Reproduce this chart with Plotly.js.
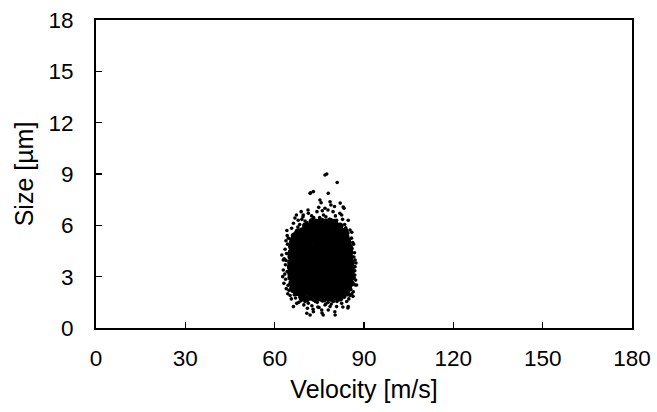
<!DOCTYPE html>
<html>
<head>
<meta charset="utf-8">
<script src="https://cdn.plot.ly/plotly-3.0.1.min.js"></script>
<style>html,body{margin:0;padding:0;background:#fff;}#chart{width:657px;height:412px;}</style>
</head>
<body>
<div id="chart"></div>
<script>
// Dense core of the droplet cloud: velocity [m/s] and size [µm]
const coreX = [
 69.2,70.6,72.1,73.4,74.9,76.3,77.8,79.1,80.6,81.9,
 67.3,68.8,70.1,71.7,73.0,74.6,75.9,77.4,78.8,80.3,81.7,83.2,84.1,
 66.1,67.6,69.0,70.5,71.9,73.3,74.8,76.2,77.6,79.1,80.5,81.9,83.4,84.8,
 65.8,66.8,68.3,69.7,71.2,72.6,74.1,75.5,77.0,78.4,79.8,81.3,82.7,84.2,85.5,
 65.5,66.4,67.9,69.3,70.8,72.2,73.7,75.1,76.6,78.0,79.5,80.9,82.4,83.8,85.2,85.7,
 65.4,66.3,67.7,69.2,70.6,72.1,73.5,75.0,76.4,77.9,79.3,80.8,82.2,83.7,85.1,85.7,
 65.3,66.2,67.7,69.1,70.5,72.0,73.4,74.9,76.3,77.8,79.2,80.7,82.1,83.6,85.0,85.8,
 65.4,66.3,67.8,69.2,70.7,72.1,73.6,75.0,76.5,77.9,79.4,80.8,82.3,83.7,85.2,85.7,
 65.5,66.4,67.9,69.3,70.8,72.2,73.7,75.1,76.6,78.0,79.5,80.9,82.4,83.8,85.3,
 65.6,66.5,68.0,69.4,70.9,72.3,73.8,75.2,76.7,78.1,79.6,81.0,82.5,83.9,85.2,
 65.7,66.7,68.2,69.6,71.1,72.5,74.0,75.4,76.9,78.3,79.8,81.2,82.7,84.1,85.1,
 66.0,67.2,68.6,70.1,71.5,73.0,74.4,75.9,77.3,78.8,80.2,81.7,83.1,84.5,
 66.6,68.0,69.5,70.9,72.4,73.8,75.3,76.7,78.2,79.6,81.1,82.5,83.9,
 67.9,69.3,70.8,72.2,73.7,75.1,76.6,78.0,79.5,80.9,82.3,83.6,
 70.4,71.8,73.3,74.7,76.2,77.6,79.1,80.5,81.9,
 72.6,74.1,75.7,77.2,78.6,80.1
];
const coreY = [
 1.78,1.71,1.80,1.73,1.77,1.70,1.79,1.74,1.81,1.76,
 2.08,2.01,2.06,2.10,2.02,2.07,2.00,2.09,2.04,2.11,2.03,2.08,2.05,
 2.33,2.39,2.31,2.37,2.30,2.36,2.40,2.32,2.38,2.34,2.31,2.39,2.35,2.33,
 2.62,2.68,2.63,2.69,2.61,2.66,2.70,2.64,2.67,2.60,2.68,2.63,2.69,2.65,2.62,
 2.97,2.91,2.99,2.93,2.96,2.90,2.98,2.94,2.99,2.92,2.97,2.95,2.91,2.98,2.93,2.96,
 3.22,3.28,3.21,3.27,3.24,3.29,3.20,3.26,3.23,3.28,3.21,3.25,3.29,3.22,3.27,3.24,
 3.57,3.51,3.58,3.53,3.59,3.52,3.56,3.50,3.57,3.54,3.59,3.51,3.55,3.58,3.52,3.56,
 3.83,3.88,3.82,3.87,3.84,3.89,3.81,3.86,3.83,3.88,3.82,3.85,3.89,3.81,3.87,3.84,
 4.18,4.12,4.17,4.11,4.19,4.13,4.16,4.10,4.18,4.14,4.19,4.12,4.17,4.11,4.15,
 4.42,4.48,4.41,4.47,4.44,4.49,4.43,4.46,4.40,4.48,4.42,4.47,4.41,4.45,4.44,
 4.77,4.71,4.78,4.73,4.76,4.70,4.79,4.72,4.77,4.74,4.71,4.78,4.73,4.76,4.72,
 5.02,5.08,5.03,5.07,5.01,5.09,5.04,5.06,5.02,5.08,5.03,5.07,5.05,5.01,
 5.37,5.31,5.38,5.33,5.36,5.30,5.39,5.32,5.37,5.34,5.38,5.31,5.35,
 5.62,5.68,5.63,5.67,5.61,5.69,5.64,5.66,5.62,5.68,5.63,5.65,
 5.97,5.92,5.98,5.93,5.96,5.91,5.99,5.94,5.95,
 6.22,6.17,6.24,6.19,6.23,6.18
];
// Sparse droplets around the edge of the cloud and outliers
const edgeX = [
 76.9,77.5,81.0,71.9,73.0,78.0,75.2,75.6,78.6,78.9,69.6,71.3,66.8,67.9,66.3,65.7,81.9,82.5,84.7,85.3,
 83.0,83.3,85.9,85.3,72.1,71.2,69.5,67.8,74.2,76.4,77.9,80.4,79.6,73.1,70.2,83.5,76.9,
 62.4,62.9,62.9,62.7,63.1,63.5,63.8,64.2,63.6,63.9,64.1,63.4,64.4,
 87.0,87.0,87.5,86.4,86.8,86.5,86.9,87.2,85.8,86.3,85.6,87.0,
 66.3,67.4,70.8,71.9,73.0,75.8,76.3,78.6,80.8,82.5,84.7,68.5,65.6,66.6,69.8,72.5,74.3,77.2,79.7,81.6,
 83.4,84.9,65.9,74.9,78.0,80.2,68.1,74.5,76.9,80.3,82.9,84.6,75.9,
 66.9,68.4,69.1,70.9,72.4,73.6,75.1,76.0,77.2,78.4,79.3,80.8,81.4,82.8,83.9,84.6,85.1,66.5,65.4,67.3,
 68.9,74.8,80.1,82.0,
 64.3,64.0,63.8,64.2,63.7,64.5,64.8,65.2,63.2,64.6,
 86.6,86.9,86.7,86.4,86.0,86.2,85.9,85.3,87.3,
 67.0,68.9,70.2,71.3,73.7,76.0,77.9,79.0,80.9,82.2,83.9,84.2,71.0,72.9
];
const edgeY = [
 8.94,9.00,8.50,7.87,7.97,7.87,7.48,7.32,7.38,7.19,6.60,6.70,6.43,6.30,6.12,5.83,6.70,6.60,6.30,5.73,
 7.07,7.00,5.60,4.85,7.90,6.90,6.50,5.90,6.80,6.60,6.90,6.55,6.80,6.45,6.25,6.05,7.00,
 4.27,3.97,3.39,3.00,2.61,4.60,5.10,5.40,3.70,2.30,5.70,3.15,2.00,
 3.97,3.58,2.51,2.12,4.40,4.90,3.10,2.80,5.25,1.85,2.25,2.51,
 1.25,1.44,0.86,0.76,0.95,1.05,0.76,1.25,1.25,1.44,1.25,1.83,1.70,1.95,1.35,1.30,1.50,1.40,1.55,1.65,
 1.80,1.70,2.15,1.20,1.05,0.95,1.50,1.23,1.34,0.76,1.23,1.17,0.88,
 5.55,6.05,6.35,6.15,6.55,6.30,6.45,6.85,6.50,6.35,6.15,6.30,5.95,6.35,5.85,5.55,5.20,5.40,5.20,6.60,
 6.80,7.05,7.10,7.30,
 4.90,4.35,3.95,3.30,2.85,2.50,2.20,1.90,4.05,5.25,
 4.15,3.35,2.95,2.60,4.65,5.00,2.00,1.90,3.80,
 1.75,1.60,1.55,1.45,1.55,1.60,1.50,1.40,1.55,1.75,1.95,1.55,1.15,1.10
];
const xTicks = [0,30,60,90,120,150,180];
const yTicks = [0,3,6,9,12,15,18];

const FONT = 'Liberation Sans, Arial, sans-serif';
const traces = [
  {x: coreX, y: coreY, type: 'scatter', mode: 'markers',
   marker: {color: '#000', size: 7.2}, hoverinfo: 'x+y'},
  {x: edgeX, y: edgeY, type: 'scatter', mode: 'markers',
   marker: {color: '#000', size: 3.6}, hoverinfo: 'x+y'}
];
const axisCommon = {
  showgrid: false, zeroline: false, showline: true, linecolor: '#000', linewidth: 2,
  mirror: true, ticks: 'inside', ticklen: 6, tickwidth: 1.2, tickcolor: '#000',
  tickfont: {family: FONT, size: 22.5, color: '#000'}
};
const layout = {
  width: 657, height: 412,
  margin: {l: 96, r: 25, t: 20, b: 84},
  paper_bgcolor: '#fff', plot_bgcolor: '#fff',
  showlegend: false,
  font: {family: FONT, color: '#000'},
  xaxis: Object.assign({}, axisCommon, {
    range: [0, 180], tickmode: 'array', tickvals: xTicks, ticktext: xTicks.map(String),
    ticklabelstandoff: 9,
    title: {text: 'Velocity [m/s]', font: {family: FONT, size: 25, color: '#000'}, standoff: 10}
  }),
  yaxis: Object.assign({}, axisCommon, {
    range: [0, 18], tickmode: 'array', tickvals: yTicks, ticktext: yTicks.map(String),
    ticklabelstandoff: 16,
    title: {text: 'Size [µm]', font: {family: FONT, size: 25, color: '#000'}, standoff: 8}
  })
};
Plotly.newPlot('chart', traces, layout, {displayModeBar: false, staticPlot: true});
</script>
</body>
</html>
